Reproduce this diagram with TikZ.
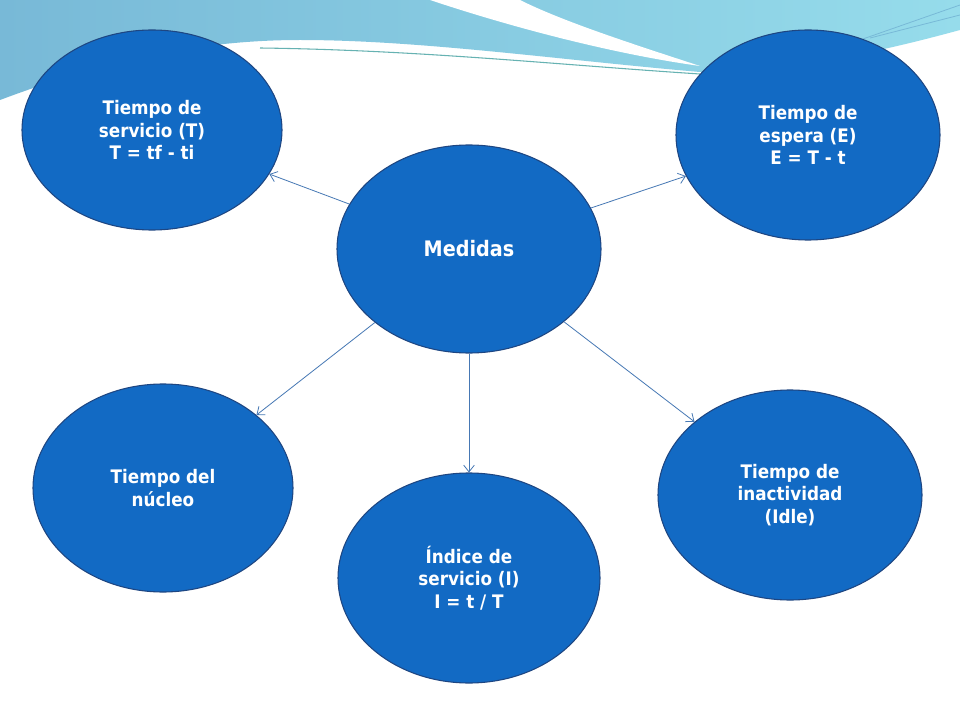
\documentclass[tikz,border=0pt]{standalone}
\usepackage{fontspec}
\setmainfont{DejaVu Sans Condensed}
\usetikzlibrary{arrows.meta}
\definecolor{fillb}{RGB}{18,106,196}
\definecolor{edgeb}{RGB}{30,70,130}
\definecolor{lineb}{RGB}{70,120,180}
\definecolor{wave1}{RGB}{120,185,215}
\definecolor{wave2}{RGB}{150,220,235}
\tikzset{
  bub/.style={ellipse, draw=edgeb, line width=0.8pt, fill=fillb, text=white, font=\bfseries\fontsize{14}{17}\selectfont, align=center, inner sep=0pt, minimum width=#1},
  conn/.style={draw=lineb, line width=0.6pt, -{Straight Barb[length=5pt,width=8pt]}}
}
\usetikzlibrary{shapes.geometric}
\begin{document}
\begin{tikzpicture}[x=0.75pt,y=-0.75pt]
\useasboundingbox (0,0) rectangle (960,720);
\fill[white] (0,0) rectangle (960,720);
% wave background
\shade[left color=wave1, right color=wave2] (0,0) -- (960,0) -- (960,30) .. controls (850,60) and (780,70) .. (700,72) .. controls (560,60) and (420,40) .. (300,40) .. controls (180,40) and (80,70) .. (0,100) -- cycle;
\fill[white] (430,0) .. controls (520,30) and (620,55) .. (700,66) .. controls (620,40) and (560,20) .. (520,0) -- cycle;
\draw[teal!60, line width=0.8pt] (260,48) .. controls (420,50) and (560,65) .. (700,74);
\draw[wave1, line width=0.6pt] (860,40) -- (960,5);
\draw[wave1, line width=0.6pt] (870,38) -- (960,15);
\node[bub=260*0.75pt, minimum height=200*0.75pt] (ts) at (152,130) {Tiempo de\\servicio (T)\\T = tf - ti};
\node[bub=264*0.75pt, minimum height=210*0.75pt] (te) at (808,135) {Tiempo de\\espera (E)\\E = T - t};
\node[bub=264*0.75pt, minimum height=208*0.75pt, font=\bfseries\fontsize{16}{19}\selectfont] (m) at (469,249) {Medidas};
\node[bub=260*0.75pt, minimum height=208*0.75pt] (tn) at (163,488) {Tiempo del\\núcleo};
\node[bub=262*0.75pt, minimum height=210*0.75pt] (is) at (469,578) {Índice de\\servicio (I)\\I = t / T};
\node[bub=264*0.75pt, minimum height=210*0.75pt] (ti) at (790,495) {Tiempo de\\inactividad\\(Idle)};
\draw[conn] (m) -- (ts);
\draw[conn] (m) -- (te);
\draw[conn] (m) -- (tn);
\draw[conn] (m) -- (is);
\draw[conn] (m) -- (ti);
\end{tikzpicture}
\end{document}
